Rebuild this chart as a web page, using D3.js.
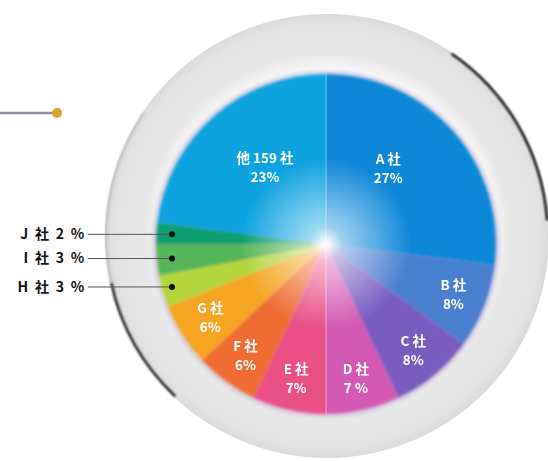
<!DOCTYPE html>
<html>
<head>
<meta charset="utf-8">
<script src="https://cdn.jsdelivr.net/npm/d3@7"></script>
<style>
  body { margin: 0; background: #fff; }
  text { font-family: "Noto Sans CJK JP", "Noto Sans", sans-serif; font-weight: bold; }
</style>
</head>
<body>
<div id="chart"></div>
<script>
// share of each company, clockwise from 12 o'clock
const companies = ['A 社', 'B 社', 'C 社', 'D 社', 'E 社', 'F 社', 'G 社', 'H 社', 'I 社', 'J 社', '他 159 社'];
const shares = [27, 8, 8, 7, 7, 6, 6, 3, 3, 2, 23];
const shareLabels = ['27%', '8%', '8%', '7 %', '7%', '6%', '6%', '3 %', '3 %', '2 %', '23%'];
const colors = ['#0a88d8', '#4a7fcf', '#7a5cbf', '#d35ab4', '#ea4f86', '#f06c30', '#f6a521', '#b4d63a', '#58b65a', '#0f9f72', '#11a3df'];
// small slices get a leader line out to the left
const outsideLabels = ['H 社', 'I 社', 'J 社'];

const width = 548, height = 461;
const cx = 326, cy = 244, radius = 170;

const svg = d3.select('#chart').append('svg')
  .attr('width', width).attr('height', height);
const defs = svg.append('defs');

// ring gradient
const ringGrad = defs.append('radialGradient').attr('id', 'ringGrad')
  .attr('cx', 0.5).attr('cy', 0.5).attr('r', 0.5);
ringGrad.append('stop').attr('offset', '0.72').attr('stop-color', '#ffffff');
ringGrad.append('stop').attr('offset', '0.82').attr('stop-color', '#e8e8e8');
ringGrad.append('stop').attr('offset', '0.96').attr('stop-color', '#e3e3e3');
ringGrad.append('stop').attr('offset', '1').attr('stop-color', '#dadada');

// center glow
const glow = defs.append('radialGradient').attr('id', 'glow')
  .attr('cx', 0.5).attr('cy', 0.5).attr('r', 0.5);
glow.append('stop').attr('offset', '0').attr('stop-color', '#ffffff').attr('stop-opacity', 1);
glow.append('stop').attr('offset', '0.2').attr('stop-color', '#ffffff').attr('stop-opacity', 0.6);
glow.append('stop').attr('offset', '1').attr('stop-color', '#ffffff').attr('stop-opacity', 0);

defs.append('filter').attr('id', 'soft').attr('x', '-10%').attr('y', '-10%').attr('width', '120%').attr('height', '120%')
  .append('feGaussianBlur').attr('stdDeviation', 1.8);
defs.append('filter').attr('id', 'blurTxt')
  .append('feGaussianBlur').attr('stdDeviation', 0.35);
defs.append('filter').attr('id', 'edge').attr('x', '-20%').attr('y', '-20%').attr('width', '140%').attr('height', '140%')
  .append('feGaussianBlur').attr('stdDeviation', 1);

// outer gray ring
const ringCx = 327, ringCy = 236, ringR = 222;
svg.append('circle')
  .attr('cx', ringCx).attr('cy', ringCy).attr('r', ringR)
  .attr('fill', 'url(#ringGrad)');

// dark shading arcs on the ring edge
const rimArc = d3.arc().innerRadius(ringR - 2.5).outerRadius(ringR);
const rim = svg.append('g').attr('transform', `translate(${ringCx},${ringCy})`).attr('filter', 'url(#edge)');
rim.append('path').attr('d', rimArc({ startAngle: 0.6, endAngle: 1.5 })).attr('fill', '#111');
rim.append('path').attr('d', rimArc({ startAngle: 3.9, endAngle: 4.5 })).attr('fill', '#222');
rim.append('path').attr('d', rimArc({ startAngle: 4.5, endAngle: 5.3 })).attr('fill', '#aaa').attr('opacity', 0.5);

// pie
const pie = d3.pie().sort(null).value((d) => d)(shares);
const arc = d3.arc().innerRadius(0).outerRadius(radius);

const g = svg.append('g').attr('transform', `translate(${cx},${cy})`);

// soft halo behind the pie
g.append('circle').attr('r', radius + 4).attr('fill', '#c9b8d8').attr('opacity', 0.5).attr('filter', 'url(#soft)');

g.append('g').attr('filter', 'url(#soft)')
  .selectAll('path')
  .data(pie)
  .join('path')
  .attr('d', arc)
  .attr('fill', (d, i) => colors[i]);

// thin light separators on the main axis
g.append('g').selectAll('line')
  .data(pie.filter((d, i) => i === 0 || i === 4))
  .join('line')
  .attr('x1', 0).attr('y1', 0)
  .attr('x2', (d) => radius * Math.sin(d.startAngle))
  .attr('y2', (d) => -radius * Math.cos(d.startAngle))
  .attr('stroke', '#ffffff').attr('stroke-opacity', 0.45).attr('stroke-width', 1);

g.append('circle').attr('r', 85).attr('fill', 'url(#glow)');

// inside labels: two separate text lines per slice
const inner = pie.filter((d, i) => !outsideLabels.includes(companies[i]));
const labelPos = (d) => {
  const big = (d.endAngle - d.startAngle) > 1;
  const r = big ? 98 : 137;
  let a = (d.startAngle + d.endAngle) / 2;
  // big slices: pull the label toward the vertical split
  if (big) a = a > Math.PI ? a + 0.05 : a - 0.16;
  return [r * Math.sin(a), -r * Math.cos(a)];
};
const labels = g.append('g').attr('filter', 'url(#blurTxt)')
  .selectAll('g')
  .data(inner)
  .join('g')
  .attr('transform', (d) => `translate(${labelPos(d)})`);
labels.append('text')
  .attr('text-anchor', 'middle').attr('fill', '#ffffff').attr('font-size', 13.5)
  .attr('y', -4).text((d) => companies[d.index]);
labels.append('text')
  .attr('text-anchor', 'middle').attr('fill', '#ffffff').attr('font-size', 13.5)
  .attr('y', 15).text((d) => shareLabels[d.index]);

// outside labels with leader lines
const outer = pie.filter((d, i) => outsideLabels.includes(companies[i]));
const dotR = 154;
const dotX = cx - dotR;
const dotY = (d) => cy - dotR * Math.cos((d.startAngle + d.endAngle) / 2);
const lead = svg.append('g');
lead.selectAll('line')
  .data(outer)
  .join('line')
  .attr('x1', 88).attr('x2', dotX)
  .attr('y1', dotY).attr('y2', dotY)
  .attr('stroke', '#555').attr('stroke-width', 1);
lead.selectAll('circle')
  .data(outer)
  .join('circle')
  .attr('cx', dotX).attr('cy', dotY)
  .attr('r', 3).attr('fill', '#111');
lead.selectAll('text')
  .data(outer)
  .join('text')
  .attr('x', 86).attr('y', (d) => dotY(d) + 5)
  .attr('text-anchor', 'end')
  .attr('font-size', 14)
  .attr('letter-spacing', 1.8)
  .attr('fill', '#111')
  .text((d) => `${companies[d.index]} ${shareLabels[d.index]}`);

// top-left pointer line
svg.append('line').attr('x1', 0).attr('x2', 55).attr('y1', 113).attr('y2', 113)
  .attr('stroke', '#8a8aa0').attr('stroke-width', 2.5);
svg.append('circle').attr('cx', 57).attr('cy', 113).attr('r', 5).attr('fill', '#d9a32a');
</script>
</body>
</html>
